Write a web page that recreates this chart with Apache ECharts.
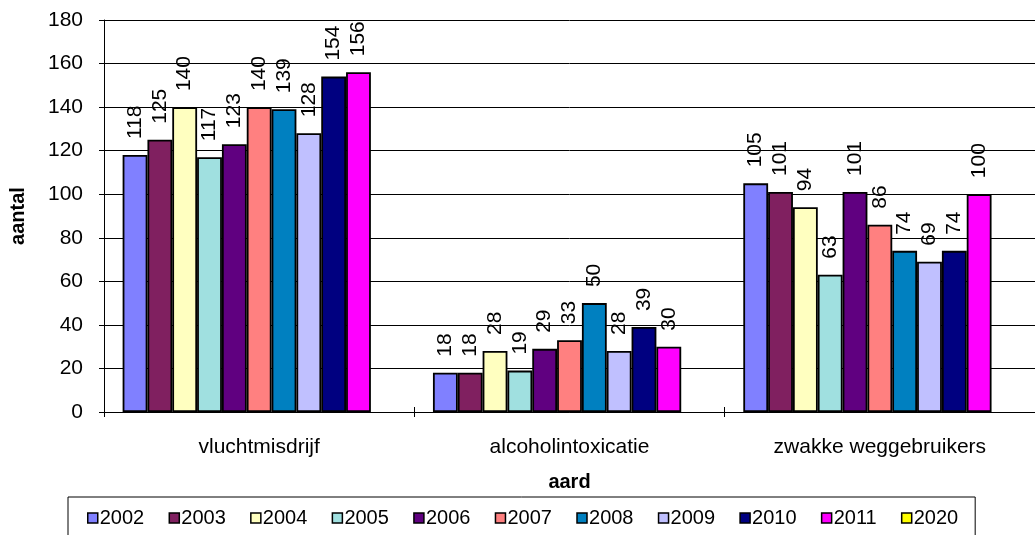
<!DOCTYPE html>
<html>
<head>
<meta charset="utf-8">
<script src="https://cdn.jsdelivr.net/npm/echarts@6/dist/echarts.min.js"></script>
<style>
html,body{margin:0;padding:0;background:#fff;}
#c{width:1035px;height:535px;}
</style>
</head>
<body>
<div id="c"></div>
<script>
const categories = ['vluchtmisdrijf', 'alcoholintoxicatie', 'zwakke weggebruikers'];
const years = ['2002','2003','2004','2005','2006','2007','2008','2009','2010','2011','2020'];
const v2002 = [118, 18, 105];
const v2003 = [125, 18, 101];
const v2004 = [140, 28, 94];
const v2005 = [117, 19, 63];
const v2006 = [123, 29, 101];
const v2007 = [140, 33, 86];
const v2008 = [139, 50, 74];
const v2009 = [128, 28, 69];
const v2010 = [154, 39, 74];
const v2011 = [156, 30, 100];
const v2020 = ['-', '-', '-'];
const yTicks = [0, 20, 40, 60, 80, 100, 120, 140, 160, 180];

const seriesValues = [v2002, v2003, v2004, v2005, v2006, v2007, v2008, v2009, v2010, v2011, v2020];
const colors = ['#8080FF','#802060','#FFFFC0','#A0E0E0','#600080','#FF8080','#0080C0','#C0C0FF','#000080','#FF00FF','#FFFF00'];

const FONT = 'Liberation Sans, Arial, sans-serif';
const chart = echarts.init(document.getElementById('c'), null, {renderer: 'canvas'});

chart.setOption({
  animation: false,
  backgroundColor: '#fff',
  textStyle: {fontFamily: FONT, color: '#000'},
  grid: {left: 104, top: 20, width: 942, height: 392, containLabel: false},
  legend: {
    show: true,
    left: 68, top: 497,
    padding: [11, 17, 11, 19],
    borderColor: '#000', borderWidth: 1,
    itemWidth: 10, itemHeight: 10, itemGap: 24.3,
    icon: 'rect',
    itemStyle: {borderColor: '#000', borderWidth: 1.5},
    textStyle: {fontFamily: FONT, fontSize: 20, color: '#000', padding: [0,0,0,-3]},
    data: years
  },
  xAxis: [{
    type: 'category',
    data: categories,
    position: 'bottom',
    name: 'aard',
    nameLocation: 'middle',
    nameGap: 60,
    nameTextStyle: {fontFamily: FONT, fontSize: 20, fontWeight: 'bold', color: '#000'},
    axisLine: {show: true, onZero: false, lineStyle: {color: '#000', width: 1}},
    axisTick: {show: true, length: 5, lineStyle: {color: '#000'}},
    axisLabel: {fontFamily: FONT, fontSize: 21, color: '#000', margin: 25},
    splitLine: {show: false}
  }, {
    type: 'category',
    data: categories,
    position: 'top',
    axisLine: {show: false, onZero: true},
    axisTick: {show: true, length: 5, lineStyle: {color: '#000'}},
    axisLabel: {show: false},
    splitLine: {show: false}
  }],
  yAxis: {
    type: 'value',
    min: 0, max: 180, interval: 20,
    name: 'aantal',
    nameLocation: 'middle',
    nameGap: 76,
    nameTextStyle: {fontFamily: FONT, fontSize: 20, fontWeight: 'bold', color: '#000'},
    axisLine: {show: true, lineStyle: {color: '#000', width: 1}},
    axisTick: {show: true, length: 5, lineStyle: {color: '#000'}},
    axisLabel: {fontFamily: FONT, fontSize: 21, color: '#000', margin: 21,
      formatter: function (v) { return yTicks.indexOf(v) >= 0 ? String(v) : ''; }},
    splitLine: {show: true, lineStyle: {color: '#000', width: 1}}
  },
  series: years.map(function (y, i) {
    return {
      name: y,
      type: 'bar',
      xAxisIndex: 0,
      data: seriesValues[i],
      barGap: '0%',
      barCategoryGap: '12%',
      itemStyle: {color: colors[i], borderColor: '#000', borderWidth: 1.8},
      label: {
        show: true,
        position: 'top',
        rotate: 90,
        align: 'left',
        verticalAlign: 'middle',
        distance: 16,
        fontFamily: FONT,
        fontSize: 21,
        color: '#000'
      }
    };
  })
});
</script>
</body>
</html>
